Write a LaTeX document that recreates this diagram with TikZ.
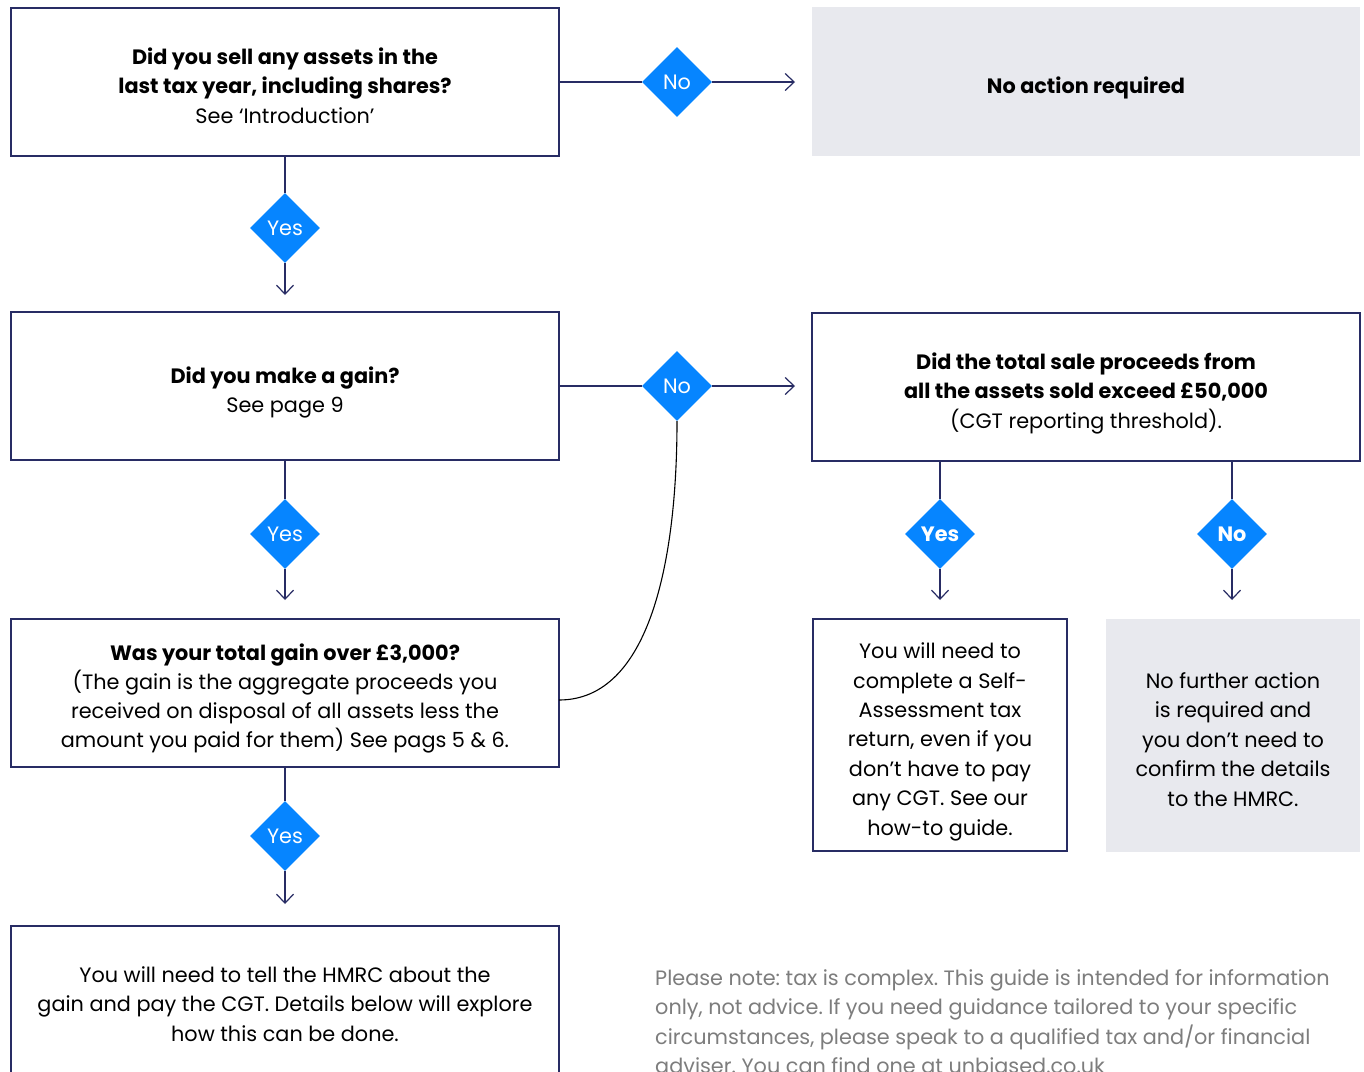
\documentclass[tikz,border=0pt]{standalone}
\usepackage{fontspec}
\setmainfont{Poppins}
\frenchspacing
\usetikzlibrary{shapes.geometric,arrows.meta,calc}
\definecolor{navy}{RGB}{40,44,100}
\definecolor{dblue}{RGB}{6,133,255}
\definecolor{panel}{RGB}{232,233,238}
\definecolor{notegray}{RGB}{125,125,125}
\newcommand\lowtxt[2][5pt]{\raisebox{-#1}[\height][\depth]{\begin{tabular}{@{}c@{}}#2\end{tabular}}}
\tikzset{
  txt/.style={font=\fontsize{20.8}{29.2}\selectfont},
  box/.style={txt,draw=navy,line width=1.2pt,minimum width=548pt,minimum height=148pt,inner sep=0pt},
  gbox/.style={txt,fill=panel,minimum width=548pt,minimum height=149pt,inner sep=0pt},
  sbox/.style={draw=navy,line width=1.2pt,minimum width=254pt,minimum height=232pt,inner sep=0pt,font=\fontsize{20.8}{29.4}\selectfont},
  sgbox/.style={fill=panel,minimum width=254pt,minimum height=233pt,inner sep=0pt,font=\fontsize{20.8}{29.4}\selectfont},
  dec/.style={diamond,fill=dblue,text=white,minimum width=70pt,minimum height=70pt,inner sep=0pt,aspect=1,font=\fontsize{20.8}{22}\selectfont},
  decb/.style={dec,font=\fontsize{20.8}{22}\selectfont\bfseries},
  conn/.style={draw=navy,line width=1.2pt},
  arr/.style={conn,-{Straight Barb[length=9pt,width=17pt,line width=1.2pt]}},
}
\begin{document}
\begin{tikzpicture}[x=1pt,y=-1pt]
\useasboundingbox (0,0) rectangle (1364,1071);
\clip (0,0) rectangle (1364,1071);
% boxes
\node[box] (q1) at (285,82) {\lowtxt[6pt]{\textbf{Did you sell any assets in the}\\\textbf{last tax year, including shares?}\\See ‘Introduction’}};
\node[gbox] (noact) at (1086,81.5) {\lowtxt[6pt]{\textbf{No action required}}};
\node[box] (q2) at (285,386) {\lowtxt[6pt]{\textbf{Did you make a gain?}\\See page 9}};
\node[box] (q3) at (1086,387) {\lowtxt[6pt]{\textbf{Did the total sale proceeds from}\\\textbf{all the assets sold exceed £50,000}\\(CGT reporting threshold).}};
\node[box] (q4) at (285,693) {\lowtxt[5pt]{\textbf{Was your total gain over £3,000?}\\(The gain is the aggregate proceeds you\\received on disposal of all assets less the\\amount you paid for them) See pags 5 \& 6.}};
\node[box] (out5) at (285,1000) {\lowtxt[6pt]{You will need to tell the HMRC about the\\gain and pay the CGT. Details below will explore\\how this can be done.}};
\node[sbox] (out6) at (940,735) {\lowtxt[6pt]{You will need to\\complete a Self-\\Assessment tax\\return, even if you\\don’t have to pay\\any CGT. See our\\how-to guide.}};
\node[sgbox] (out7) at (1233,735.5) {\lowtxt[6pt]{No further action\\is required and\\you don’t need to\\confirm the details\\to the HMRC.}};
% decisions
\node[dec] (d1) at (677,82) {No};
\node[dec] (y1) at (285,228) {Yes};
\node[dec] (d2) at (677,386) {No};
\node[dec] (y2) at (285,534) {Yes};
\node[dec] (y3) at (285,836) {Yes};
\node[decb] (yr) at (940,534) {Yes};
\node[decb] (nr) at (1232,534) {No};
% arrow end points
\coordinate (e1) at (795,82);
\coordinate (e2) at (795,386);
\coordinate (e3) at (285,295);
\coordinate (e4) at (285,600);
\coordinate (e5) at (285,904);
\coordinate (e6) at (940,600);
\coordinate (e7) at (1232,600);
\coordinate (q3a) at (940,461);
\coordinate (q3b) at (1232,461);
\coordinate (q4r) at (559,700);
% connectors
\draw[conn] (q1.east) -- (d1.west);
\draw[arr] (d1.east) -- (e1);
\draw[conn] (q1.south) -- (y1.north);
\draw[arr] (y1.south) -- (e3);
\draw[conn] (q2.east) -- (d2.west);
\draw[arr] (d2.east) -- (e2);
\draw[conn] (q2.south) -- (y2.north);
\draw[arr] (y2.south) -- (e4);
\draw[conn] (q4.south) -- (y3.north);
\draw[arr] (y3.south) -- (e5);
\draw[conn] (q3a) -- (yr.north);
\draw[arr] (yr.south) -- (e6);
\draw[conn] (q3b) -- (nr.north);
\draw[arr] (nr.south) -- (e7);
\draw[line width=1.1pt,black] (q4r) .. controls (650,700) and (677,560) .. (d2.south);
% note
\node[anchor=north west,inner sep=0pt,align=left,text=notegray,font=\fontsize{20.8}{29.5}\selectfont] (note) at (655,969) {Please note: tax is complex. This guide is intended for information\\only, not advice. If you need guidance tailored to your specific\\circumstances, please speak to a qualified tax and/or financial\\adviser. You can find one at unbiased.co.uk};
\end{tikzpicture}
\end{document}
